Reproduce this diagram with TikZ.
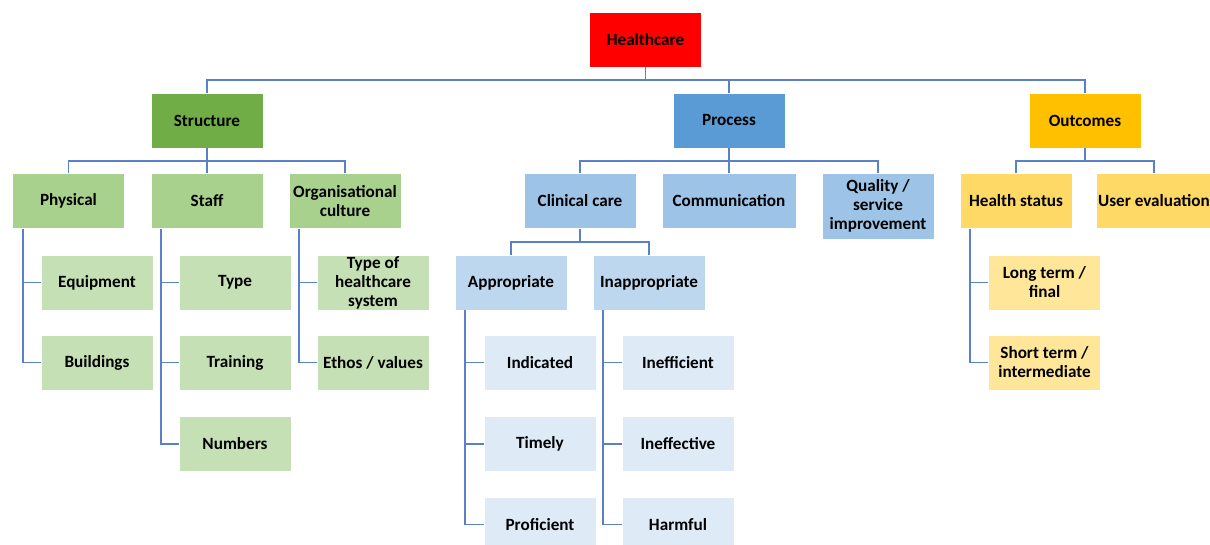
\documentclass[tikz,border=0pt]{standalone}
\usepackage{fontspec}
\setmainfont{Carlito}
\definecolor{hcred}{HTML}{FF0000}
\definecolor{grn1}{HTML}{70AD47}
\definecolor{grn2}{HTML}{A9D18E}
\definecolor{grn3}{HTML}{C5E0B4}
\definecolor{blu1}{HTML}{5B9BD5}
\definecolor{blu2}{HTML}{9DC3E6}
\definecolor{blu3}{HTML}{BDD7EE}
\definecolor{blu4}{HTML}{DEEBF7}
\definecolor{yel1}{HTML}{FFC000}
\definecolor{yel2}{HTML}{FFD966}
\definecolor{yel3}{HTML}{FFE699}
\definecolor{link}{HTML}{5A80C8}
\begin{document}
\begin{tikzpicture}[
  x=0.025cm, y=-0.025cm,
  box/.style={fill=#1, draw=white, line width=0.4pt, align=center, inner sep=1pt,
    minimum width=2.8cm, minimum height=1.375cm,
    font=\fontsize{12.2}{13.5}\selectfont\bfseries},
  wire/.style={draw=link, line width=1.4pt}
]
\useasboundingbox (0,0) rectangle (1210,545);
% top
\node[box=hcred] (hc) at (645.5,39.5) {Healthcare};
\node[box=grn1] (str) at (207,120.5) {Structure};
\node[box=blu1] (pro) at (729,120.5) {Process};
\node[box=yel1] (out) at (1085,120.5) {Outcomes};
% second level
\node[box=grn2] (phy) at (68.5,201) {Physical};
\node[box=grn2] (stf) at (207,201) {Staff};
\node[box=grn2] (org) at (345,201) {Organisational\\culture};
\node[box=blu2] (cli) at (580,201) {Clinical care};
\node[box=blu2, minimum width=3.35cm] (com) at (729,201) {Communication};
\node[box=blu2, minimum height=1.65cm] (qua) at (878,206) {Quality /\\service\\improvement};
\node[box=yel2] (hs) at (1016,201) {Health status};
\node[box=yel2] (ue) at (1154,201) {User evaluation};
% structure leaves
\node[box=grn3] (equ) at (97,282.5) {Equipment};
\node[box=grn3] (bld) at (97,362.5) {Buildings};
\node[box=grn3] (typ) at (235,282.5) {Type};
\node[box=grn3] (trn) at (235,362.5) {Training};
\node[box=grn3] (num) at (235,444) {Numbers};
\node[box=grn3] (hcs) at (373,282.5) {Type of\\healthcare\\system};
\node[box=grn3] (eth) at (373,362.5) {Ethos / values};
% process leaves
\node[box=blu3] (app) at (511,282.5) {Appropriate};
\node[box=blu3] (ina) at (649,282.5) {Inappropriate};
\node[box=blu4] (ind) at (540,362.5) {Indicated};
\node[box=blu4] (tim) at (540,444) {Timely};
\node[box=blu4] (prf) at (540,524.5) {Proficient};
\node[box=blu4] (ieff) at (678,362.5) {Inefficient};
\node[box=blu4] (ifv) at (678,444) {Ineffective};
\node[box=blu4] (hrm) at (678,524.5) {Harmful};
% outcome leaves
\node[box=yel3] (lt) at (1044.5,282.5) {Long term /\\final};
\node[box=yel3] (st) at (1044.5,362.5) {Short term /\\intermediate};
% buses
\draw[wire] (hc.south) -- ++(0,13) -| (str.north);
\draw[wire] (hc.south) -- ++(0,13) -| (pro.north);
\draw[wire] (hc.south) -- ++(0,13) -| (out.north);
\foreach \c in {phy,stf,org}
  \draw[wire] (str.south) -- ++(0,12.5) -| (\c.north);
\foreach \c in {cli,com,qua}
  \draw[wire] (pro.south) -- ++(0,12.5) -| (\c.north);
\foreach \c in {hs,ue}
  \draw[wire] (out.south) -- ++(0,12.5) -| (\c.north);
\foreach \c in {app,ina}
  \draw[wire] (cli.south) -- ++(0,13) -| (\c.north);
% side trees
\foreach \p/\c in {phy/equ,phy/bld,stf/typ,stf/trn,stf/num,org/hcs,org/eth,
                   app/ind,app/tim,app/prf,ina/ieff,ina/ifv,ina/hrm,hs/lt,hs/st}
  \draw[wire] (\p.south west) ++(10.5,0) |- (\c.west);
\end{tikzpicture}
\end{document}
